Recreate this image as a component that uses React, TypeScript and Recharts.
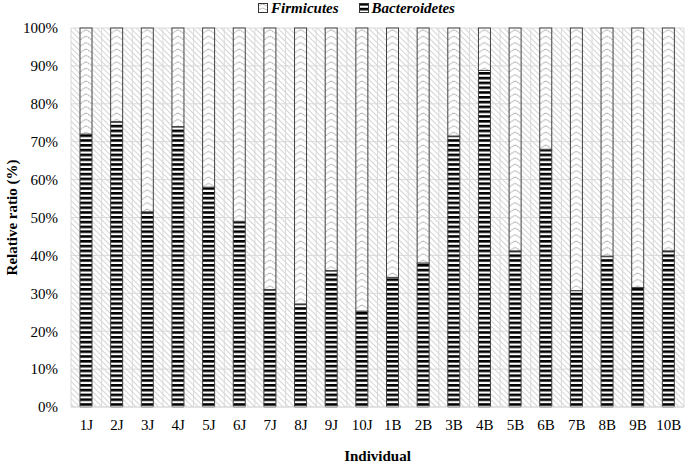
import React from "react";
import {
  BarChart,
  Bar,
  XAxis,
  YAxis,
  CartesianGrid,
  Legend,
} from "recharts";

const individuals = [
  "1J", "2J", "3J", "4J", "5J", "6J", "7J", "8J", "9J", "10J",
  "1B", "2B", "3B", "4B", "5B", "6B", "7B", "8B", "9B", "10B",
];
const bacteroidetes = [
  72, 75.3, 51.5, 74, 58, 49, 31, 27.2, 36, 25.3,
  34.2, 38, 71.5, 88.8, 41.2, 68, 30.7, 39.8, 31.5, 41.2,
];
const firmicutes = [
  28, 24.7, 48.5, 26, 42, 51, 69, 72.8, 64, 74.7,
  65.8, 62, 28.5, 11.2, 58.8, 32, 69.3, 60.2, 68.5, 58.8,
];
const yTicks = [0, 10, 20, 30, 40, 50, 60, 70, 80, 90, 100];

const data = individuals.map((name, i) => ({
  name,
  bacteroidetes: bacteroidetes[i],
  firmicutes: firmicutes[i],
}));

const serif = "Liberation Serif";
const borderColor = "#404040";

// zigzag bar: pattern aligned to each bar so one chevron spans its width
function FirmicutesShape(props: any) {
  const { x, y, width, height, index } = props;
  if (!height || height <= 0) return null;
  const id = `chev-${index}`;
  return (
    <g>
      <defs>
        <pattern
          id={id}
          patternUnits="userSpaceOnUse"
          x={x}
          y={y}
          width={width}
          height={6.4}
        >
          <rect width={width} height={6.4} fill="#fff" />
          <path
            d={`M0.5,5.2 L${width / 2},1.6 L${width - 0.5},5.2`}
            fill="none"
            stroke="#a0a0a0"
            strokeWidth={1}
            strokeDasharray="1.5 0.8"
          />
        </pattern>
      </defs>
      <rect
        x={x}
        y={y}
        width={width}
        height={height}
        fill={`url(#${id})`}
        stroke={borderColor}
        strokeWidth={1}
      />
    </g>
  );
}

function LegendBox() {
  const item = (label: string, fill: string) => (
    <div style={{ display: "flex", alignItems: "center", marginRight: 20 }}>
      <svg width={10} height={10} style={{ marginRight: 3 }}>
        <rect x={0.5} y={0.5} width={9} height={9} fill={fill} stroke="#333" />
      </svg>
      <span
        style={{
          fontFamily: serif,
          fontWeight: "bold",
          fontStyle: "italic",
          fontSize: 15,
          color: "#000",
        }}
      >
        {label}
      </span>
    </div>
  );
  return (
    <div
      style={{
        display: "flex",
        justifyContent: "center",
        alignItems: "center",
        width: 685,
        height: 16,
        paddingLeft: 48,
        boxSizing: "border-box",
      }}
    >
      {item("Firmicutes", "url(#legendFirm)")}
      {item("Bacteroidetes", "url(#stripes)")}
    </div>
  );
}

export default function App() {
  return (
    <div
      style={{
        position: "absolute",
        left: 0,
        top: 0,
        background: "#fff",
      }}
    >
      <BarChart
        width={685}
        height={463}
        data={data}
        margin={{ top: 12, right: 1, bottom: 0, left: 0 }}
        barSize={12}
      >
        <defs>
          <pattern
            id="hatch"
            patternUnits="userSpaceOnUse"
            width={4}
            height={4}
            patternTransform="rotate(-45)"
          >
            <rect width={4} height={4} fill="#fff" />
            <line x1={0.5} y1={0} x2={0.5} y2={4} stroke="#d4d4d4" strokeWidth={1} />
          </pattern>
          <pattern id="stripes" patternUnits="userSpaceOnUse" width={12} height={4.8}>
            <rect width={12} height={4.8} fill="#fff" />
            <rect width={12} height={2.6} fill="#000" />
          </pattern>
          <pattern id="legendFirm" patternUnits="userSpaceOnUse" width={9} height={4}>
            <rect width={9} height={4} fill="#fff" />
            <path d="M0,3 L4.5,1 L9,3" fill="none" stroke="#aaa" strokeWidth={0.8} />
          </pattern>
        </defs>
        <Legend
          verticalAlign="top"
          height={16}
          wrapperStyle={{ top: 0, left: 0 }}
          content={() => <LegendBox />}
        />
        <CartesianGrid
          fill="url(#hatch)"
          fillOpacity={1}
          stroke="#d9d9d9"
          strokeWidth={1}
          verticalCoordinatesGenerator={({ offset }: any) =>
            Array.from(
              { length: individuals.length + 1 },
              (_, i) => offset.left + (i * offset.width) / individuals.length
            )
          }
        />
        <XAxis
          dataKey="name"
          tickLine={false}
          axisLine={{ stroke: "#d9d9d9" }}
          tickSize={0}
          tickMargin={12}
          height={56}
          tick={{ fill: "#000", fontSize: 15, fontFamily: serif }}
          label={{
            value: "Individual",
            position: "insideBottom",
            offset: 2.5,
            style: {
              fill: "#000",
              fontSize: 15,
              fontWeight: "bold",
              fontFamily: serif,
            },
          }}
        />
        <YAxis
          type="number"
          domain={[0, 100]}
          ticks={yTicks}
          tickFormatter={(v: number) => `${v}%`}
          axisLine={false}
          tickLine={false}
          tickSize={0}
          tickMargin={13}
          width={71}
          tick={{ fill: "#000", fontSize: 15, fontFamily: serif }}
          label={{
            value: "Relative ratio (%)",
            angle: -90,
            position: "insideLeft",
            offset: 12,
            style: {
              fill: "#000",
              fontSize: 15,
              fontWeight: "bold",
              fontFamily: serif,
              textAnchor: "middle",
            },
          }}
        />
        <Bar
          dataKey="bacteroidetes"
          name="Bacteroidetes"
          stackId="a"
          fill="url(#stripes)"
          stroke={borderColor}
          strokeWidth={1}
          isAnimationActive={false}
        />
        <Bar
          dataKey="firmicutes"
          name="Firmicutes"
          stackId="a"
          shape={FirmicutesShape}
          isAnimationActive={false}
        />
      </BarChart>
    </div>
  );
}
